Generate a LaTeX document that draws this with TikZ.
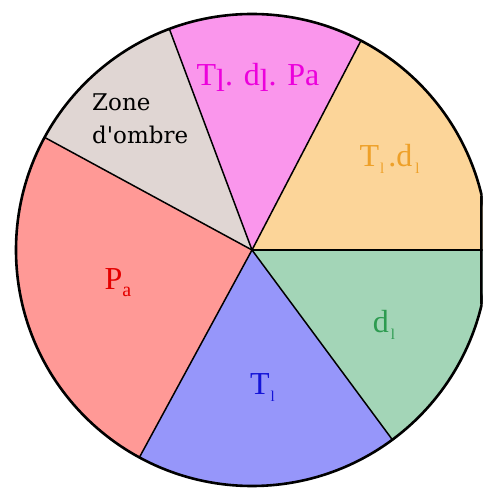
\documentclass[tikz,border=0pt]{standalone}
\usepackage{fontspec}
\setmainfont{Liberation Serif}
\newfontfamily\zonefont{DejaVu Serif}
\definecolor{orfill}{RGB}{252,213,153}
\definecolor{ortext}{RGB}{238,160,40}
\definecolor{pkfill}{RGB}{250,150,236}
\definecolor{pktext}{RGB}{236,0,220}
\definecolor{gyfill}{RGB}{224,214,211}
\definecolor{rdfill}{RGB}{255,153,150}
\definecolor{rdtext}{RGB}{228,0,0}
\definecolor{blfill}{RGB}{150,150,250}
\definecolor{bltext}{RGB}{20,20,215}
\definecolor{gnfill}{RGB}{163,213,183}
\definecolor{gntext}{RGB}{45,155,80}
\newcommand{\lsub}[2][15]{\raisebox{-7pt}{\fontsize{#1}{#1}\selectfont #2}}
\tikzset{
  lbl/.style={inner sep=0pt, anchor=base, font=\fontsize{32}{34}\selectfont},
  spoke/.style={line width=1.5pt, black}
}
\begin{document}
\begin{tikzpicture}[x=1pt,y=1pt]
\useasboundingbox (0,0) rectangle (483,488);
\coordinate (c) at (252,238);
\def\R{236}
\begin{scope}
\clip (0,0) rectangle (482.5,488);
\fill[orfill] (c) -- ++(0:\R) arc[start angle=0, end angle=62.5, radius=\R] -- cycle;
\fill[pkfill] (c) -- ++(62.5:\R) arc[start angle=62.5, end angle=110.5, radius=\R] -- cycle;
\fill[gyfill] (c) -- ++(110.5:\R) arc[start angle=110.5, end angle=151.5, radius=\R] -- cycle;
\fill[rdfill] (c) -- ++(151.5:\R) arc[start angle=151.5, end angle=241.5, radius=\R] -- cycle;
\fill[blfill] (c) -- ++(241.5:\R) arc[start angle=241.5, end angle=306.5, radius=\R] -- cycle;
\fill[gnfill] (c) -- ++(306.5:\R) arc[start angle=306.5, end angle=360, radius=\R] -- cycle;
\foreach \a in {0,62.5,110.5,151.5,241.5,306.5}
  \draw[spoke] (c) -- ++(\a:\R);
\draw[line width=2.6pt] (c) circle[radius=\R];
\draw[line width=2.4pt] (481.3,184.3) -- (481.3,291.7);
\end{scope}
\node[lbl, text=pktext] (pk) at (258,402) {T\raisebox{-6pt}{l}. d\raisebox{-6pt}{l}. Pa};
\node[lbl, text=ortext] (or) at (389.5,321) {T\kern1pt\lsub{l}\kern4pt.d\kern3pt\lsub{l}};
\node[inner sep=0pt, anchor=north west, align=left, font=\zonefont\fontsize{23}{33}\selectfont] (gy) at (92,394) {Zone\\d\textquotesingle ombre};
\node[lbl, text=rdtext] (rd) at (118,198) {P\lsub[20]{a}};
\node[lbl, text=bltext] (bl) at (262.5,93) {T\kern1pt\lsub{l}};
\node[lbl, text=gntext] (gn) at (384,155) {d\kern2pt\lsub{l}};
\end{tikzpicture}
\end{document}
